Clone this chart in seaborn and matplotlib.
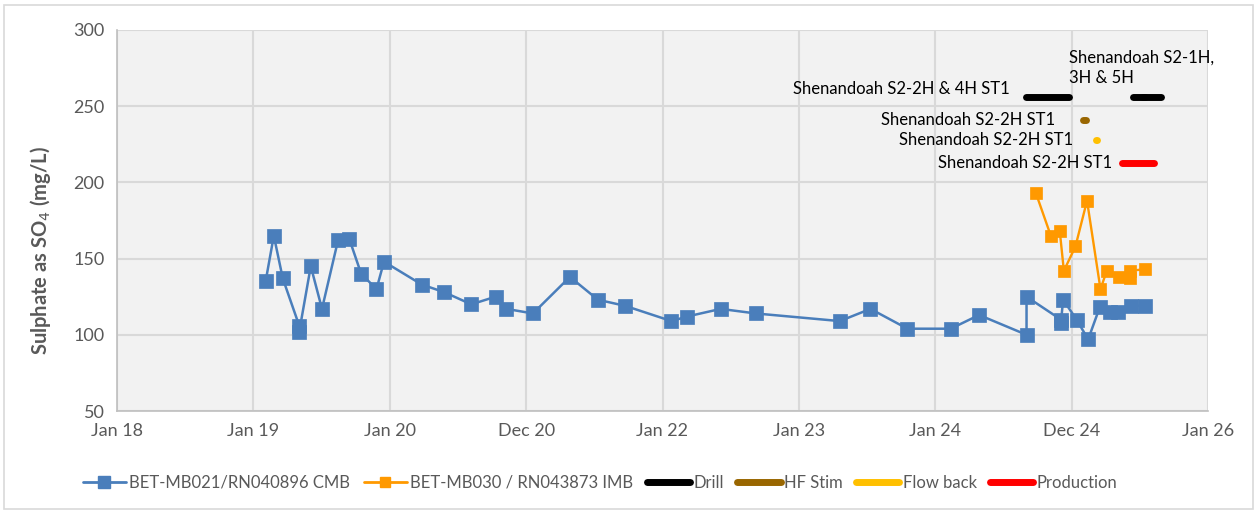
import matplotlib
matplotlib.use("Agg")
import matplotlib.pyplot as plt
import matplotlib.patches as mpatches
from matplotlib.lines import Line2D
import numpy as np
import pandas as pd
import seaborn as sns

# ---------------- data ----------------
mb021_dates = ["2019-02-03", "2019-02-25", "2019-03-21", "2019-05-04", "2019-05-04",
               "2019-06-04", "2019-07-04", "2019-08-16", "2019-09-15", "2019-10-17",
               "2019-11-27", "2019-12-17", "2020-03-27", "2020-05-26", "2020-08-07",
               "2020-10-11", "2020-11-09", "2021-01-19", "2021-04-28", "2021-07-12",
               "2021-09-23", "2022-01-25", "2022-03-08", "2022-06-06", "2022-09-08",
               "2023-04-21", "2023-07-12", "2023-10-19", "2024-02-12", "2024-04-28",
               "2024-09-02", "2024-09-02", "2024-12-03", "2024-12-03", "2024-12-09",
               "2025-01-14", "2025-02-14", "2025-03-17", "2025-04-13", "2025-05-05",
               "2025-06-08", "2025-07-16"]
mb021_values = [135, 165, 137, 106, 102,
                145, 117, 162, 163, 140,
                130, 148, 133, 128, 120,
                125, 117, 114, 138, 123,
                119, 109, 112, 117, 114,
                109, 117, 104, 104, 113,
                100, 125, 110, 108, 123,
                110, 97, 118, 115, 115,
                119, 119]

mb030_dates = ["2024-09-27", "2024-11-06", "2024-11-30", "2024-12-11", "2025-01-11",
               "2025-02-11", "2025-03-19", "2025-04-05", "2025-05-07", "2025-06-05",
               "2025-06-05", "2025-07-16"]
mb030_values = [193, 165, 168, 142, 158,
                188, 130, 142, 138, 137,
                142, 143]

# activity periods: (start, end, level)
drill_periods = [("2024-09-01", "2024-12-24", 256),
                 ("2025-06-14", "2025-07-15", 256),
                 ("2025-07-12", "2025-08-28", 256)]
hfstim_periods = [("2025-01-31", "2025-02-08", 241)]
flowback_periods = [("2025-03-06", "2025-03-11", 228)]
production_periods = [("2025-05-16", "2025-08-10", 213)]

activity_labels = ["Shenandoah S2-2H & 4H ST1", "Shenandoah S2-1H,\n3H & 5H",
                   "Shenandoah S2-2H ST1", "Shenandoah S2-2H ST1", "Shenandoah S2-2H ST1"]

tick_labels = ["Jan 18", "Jan 19", "Jan 20", "Dec 20", "Jan 22", "Jan 23", "Jan 24", "Dec 24", "Jan 26"]
series_names = ["BET-MB021/RN040896 CMB", "BET-MB030 / RN043873 IMB",
                "Drill", "HF Stim", "Flow back", "Production"]

# ---------------- style ----------------
sns.set_theme(style="white")
plt.rcParams['font.family'] = ['Lato', 'DejaVu Sans']
TXT = "#595959"
BLUE = "#4A7EBB"
ORANGE = "#FF9900"
BLACK = "#000000"
BROWN = "#996600"
YELLOW = "#FFC000"
RED = "#FF0000"

fig = plt.figure(figsize=(12.58, 5.13), dpi=100)
ax = fig.add_axes([117/1258, 1 - 411/513, (1208-117)/1258, (411-30)/513])
ax.set_facecolor("#F2F2F2")

df1 = pd.DataFrame({"date": pd.to_datetime(mb021_dates), "v": mb021_values})
df2 = pd.DataFrame({"date": pd.to_datetime(mb030_dates), "v": mb030_values})

sns.lineplot(data=df1, x="date", y="v", ax=ax, estimator=None, sort=False,
             color=BLUE, lw=1.8, marker="s", markersize=9.5, markeredgecolor=BLUE,
             markeredgewidth=0.5, zorder=4)
sns.lineplot(data=df2, x="date", y="v", ax=ax, estimator=None, sort=False,
             color=ORANGE, lw=1.7, marker="s", markersize=8, markeredgecolor=ORANGE,
             markeredgewidth=0.5, zorder=4)

def draw_periods(periods, color):
    for s, e, lvl in periods:
        d = pd.DataFrame({"date": pd.to_datetime([s, e]), "v": [lvl, lvl]})
        sns.lineplot(data=d, x="date", y="v", ax=ax, estimator=None, sort=False,
                     color=color, lw=5, solid_capstyle="round", zorder=5)

draw_periods(drill_periods, BLACK)
draw_periods(hfstim_periods, BROWN)
draw_periods(flowback_periods, YELLOW)
draw_periods(production_periods, RED)

# labels for activity periods
lab_fs = 12
def label_at(period, text, dx, dy, ha="right", va="center"):
    s, e, lvl = period
    ax.annotate(text, xy=(pd.to_datetime(s), lvl), xytext=(dx, dy),
                textcoords="offset points", ha=ha, va=va, fontsize=lab_fs,
                color="#000000", zorder=6, linespacing=1.3)

label_at(drill_periods[0], activity_labels[0], -12, 6)
label_at(drill_periods[1], activity_labels[1], -46, 8, ha="left", va="bottom")
label_at(hfstim_periods[0], activity_labels[2], -20, 0)
label_at(flowback_periods[0], activity_labels[3], -16, 0)
label_at(production_periods[0], activity_labels[4], -7, 0)

# axes
start = pd.Timestamp("2018-01-01")
tick_pos = [start + pd.Timedelta(days=365.25 * k) for k in range(len(tick_labels))]
ax.set_xlim(tick_pos[0], tick_pos[-1])
ax.set_xticks(tick_pos)
ax.set_xticklabels(tick_labels)
ax.set_ylim(50, 300)
ax.set_yticks(np.arange(50, 301, 50))
ax.tick_params(axis="both", colors=TXT, labelsize=13, length=0, pad=9)
for lab in ax.get_xticklabels() + ax.get_yticklabels():
    lab.set_color(TXT)
ax.grid(True, color="#D9D9D9", lw=1.5)
ax.set_axisbelow(True)
for side in ["top", "right"]:
    ax.spines[side].set_visible(False)
for side in ["left", "bottom"]:
    ax.spines[side].set_color("#BFBFBF")
    ax.spines[side].set_linewidth(1.2)
ax.set_xlabel("")
ax.set_ylabel("Sulphate as SO$_4$ (mg/L)", color=TXT, fontsize=14.5, fontweight="bold")
ax.yaxis.set_label_coords(-0.059, 0.42)

# legend
handles = [
    Line2D([], [], color=BLUE, lw=2, marker="s", markersize=8),
    Line2D([], [], color=ORANGE, lw=2, marker="s", markersize=7),
    Line2D([], [], color=BLACK, lw=5, solid_capstyle="round"),
    Line2D([], [], color=BROWN, lw=5, solid_capstyle="round"),
    Line2D([], [], color=YELLOW, lw=5, solid_capstyle="round"),
    Line2D([], [], color=RED, lw=5, solid_capstyle="round"),
]
leg = fig.legend(handles, series_names, loc="center", bbox_to_anchor=(600/1258, 1 - 483/513),
                 ncol=6, frameon=False, fontsize=12, handlelength=2.6, handletextpad=0.2,
                 columnspacing=0.8, labelcolor=TXT)

# chart border
fig.patches.append(mpatches.Rectangle((4/1258, 4/513), 1 - 9/1258, 1 - 9/513,
                                      transform=fig.transFigure, fill=False,
                                      edgecolor="#D9D9D9", lw=1.2))

fig.savefig("out.png", dpi=100)
